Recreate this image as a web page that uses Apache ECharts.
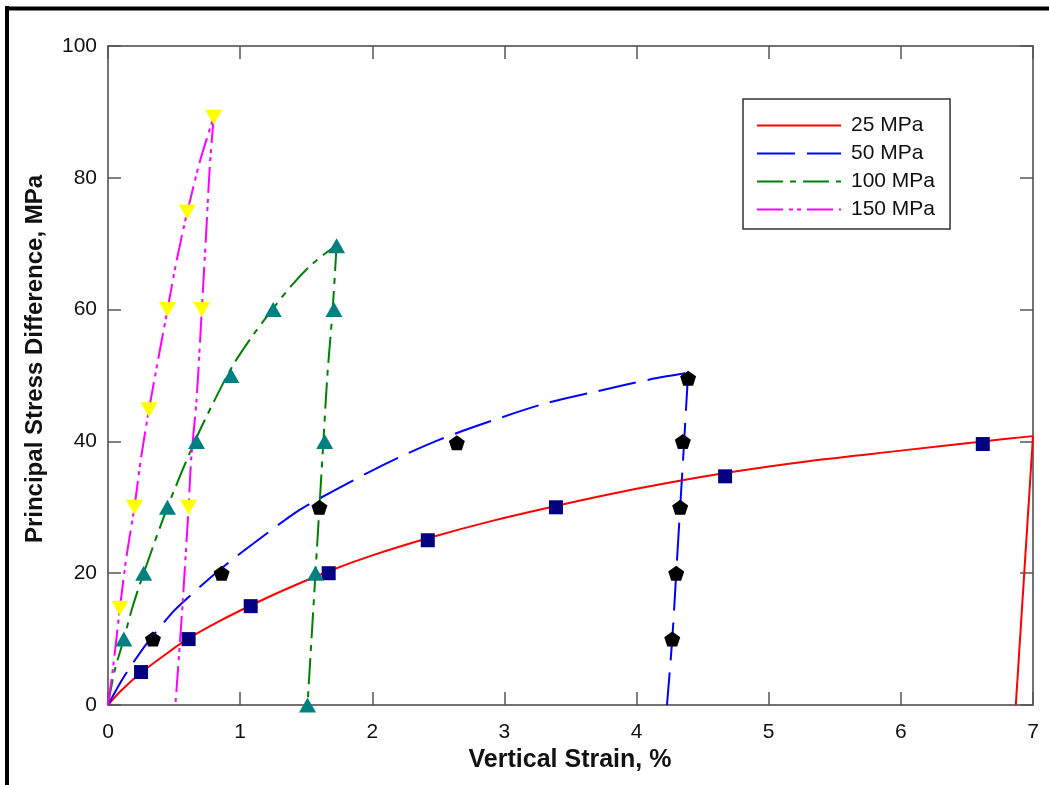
<!DOCTYPE html>
<html>
<head>
<meta charset="utf-8">
<script src="https://cdn.jsdelivr.net/npm/echarts@6/dist/echarts.min.js"></script>
<style>
  html, body { margin: 0; padding: 0; background: #fff; }
  #chart { width: 1049px; height: 785px; }
</style>
</head>
<body>
<div id="chart"></div>
<script>
// fitted curves, loading then unloading (strain %, stress MPa)
let load25x = [0, 0.1, 0.25, 0.45, 0.61, 0.85, 1.08, 1.35, 1.67, 2.0, 2.42, 2.9, 3.39, 4.0, 4.67, 5.3, 6.0, 6.62, 7.0];
let load25y = [0, 2.2, 4.9, 7.9, 10.1, 12.8, 15.1, 17.6, 20.3, 22.7, 25.3, 27.9, 30.2, 32.8, 35.2, 37.0, 38.6, 40.0, 40.8];
let unload25x = [7.0, 6.87];
let unload25y = [40.8, 0];

let load50x = [0, 0.1, 0.18, 0.3, 0.49, 0.6, 0.85, 1.1, 1.45, 1.7, 2.1, 2.5, 2.9, 3.3, 3.7, 4.1, 4.39];
let load50y = [0, 3.6, 6.1, 9.5, 14.1, 16.2, 20.6, 24.5, 29.6, 32.4, 36.6, 40.2, 43.1, 45.7, 47.6, 49.4, 50.4];
let unload50x = [4.39, 4.36, 4.33, 4.30, 4.27, 4.23];
let unload50y = [50.4, 40, 30, 20, 10, 0];

let load100x = [0, 0.05, 0.12, 0.18, 0.27, 0.45, 0.65, 0.80, 0.95, 1.10, 1.25, 1.40, 1.55, 1.73];
let load100y = [0, 5.2, 10, 14.5, 20, 30, 39.7, 46, 51.7, 56.2, 60.2, 63.9, 67.0, 69.8];
let unload100x = [1.73, 1.70, 1.66, 1.63, 1.60, 1.57, 1.54, 1.51];
let unload100y = [69.8, 60, 50, 40, 30, 20, 10, 0];

let load150x = [0, 0.04, 0.09, 0.14, 0.20, 0.25, 0.31, 0.38, 0.45, 0.52, 0.60, 0.70, 0.80];
let load150y = [0, 6, 14.7, 22.5, 30, 37.5, 44.8, 52.5, 60, 67.5, 74.8, 82.8, 89.2];
let unload150x = [0.80, 0.77, 0.74, 0.71, 0.67, 0.63, 0.61, 0.56, 0.51];
let unload150y = [89.2, 81.6, 70.5, 60, 46.3, 37.5, 30, 14, 0];

// measured points
let pts25x = [0.25, 0.61, 1.08, 1.67, 2.42, 3.39, 4.67, 6.62];
let pts25y = [5, 10, 15, 20, 25, 30, 34.7, 39.6];
let pts50x = [0.34, 0.86, 1.60, 2.64, 4.39, 4.35, 4.33, 4.30, 4.27];
let pts50y = [10, 20, 30, 39.8, 49.6, 40, 30, 20, 10];
let pts100x = [0.12, 0.27, 0.45, 0.67, 0.93, 1.25, 1.73, 1.71, 1.64, 1.57, 1.51];
let pts100y = [10, 20, 30, 40, 50, 60, 69.7, 60, 40, 20, 0];
let pts150x = [0.09, 0.20, 0.31, 0.45, 0.60, 0.80, 0.71, 0.61];
let pts150y = [14.7, 30, 44.8, 60, 74.8, 89.2, 60, 30];

let names = ['25 MPa', '50 MPa', '100 MPa', '150 MPa'];
let xTicks = [0, 1, 2, 3, 4, 5, 6, 7];
let yTicks = [0, 20, 40, 60, 80, 100];

let font = "'Liberation Sans', Arial, sans-serif";
let pentagon = 'path://M0,-10 L9.51,-3.09 L5.88,8.09 L-5.88,8.09 L-9.51,-3.09 Z';

function pairs(xs, ys) {
  return xs.map((x, i) => [x, ys[i]]);
}

function curve(name, xs, ys, color, dash) {
  return {
    name: name,
    type: 'line',
    data: pairs(xs, ys),
    symbol: 'none',
    showSymbol: false,
    smooth: 0.3,
    lineStyle: { color: color, width: 2, type: dash },
    itemStyle: { color: color },
    z: 2
  };
}

function marks(xs, ys, symbol, color, size, rotate) {
  return {
    type: 'scatter',
    data: pairs(xs, ys),
    symbol: symbol,
    symbolSize: size,
    symbolRotate: rotate || 0,
    itemStyle: { color: color, opacity: 1 },
    z: 5
  };
}

let dash50 = [38, 12];
let dash100 = [26, 7, 6, 7];
let dash150 = [26, 6, 4, 4, 4, 6];

let myChart = echarts.init(document.getElementById('chart'));

let axisLineStyle = { color: '#444', width: 1.5 };
let tickStyle = { color: '#555', width: 1.5 };

option = {
  backgroundColor: '#fff',
  animation: false,
  grid: { left: 108, top: 46, right: 16, bottom: 80 },
  xAxis: [
    {
      type: 'value', min: 0, max: 7, interval: 1, position: 'bottom',
      axisLine: { onZero: false, lineStyle: axisLineStyle },
      axisTick: { inside: true, length: 13, lineStyle: tickStyle },
      axisLabel: {
        margin: 17, color: '#111', fontSize: 21, fontFamily: font,
        formatter: v => xTicks.indexOf(v) >= 0 ? String(v) : ''
      },
      splitLine: { show: false }
    },
    {
      type: 'value', min: 0, max: 7, interval: 1, position: 'top',
      axisLine: { onZero: false, lineStyle: axisLineStyle },
      axisTick: { inside: true, length: 13, lineStyle: tickStyle },
      axisLabel: { show: false },
      splitLine: { show: false }
    }
  ],
  yAxis: [
    {
      type: 'value', min: 0, max: 100, interval: 20, position: 'left',
      axisLine: { show: true, onZero: false, lineStyle: axisLineStyle },
      axisTick: { show: true, inside: true, length: 13, lineStyle: tickStyle },
      axisLabel: {
        margin: 11, color: '#111', fontSize: 21, fontFamily: font,
        formatter: v => yTicks.indexOf(v) >= 0 ? String(v) : ''
      },
      splitLine: { show: false }
    },
    {
      type: 'value', min: 0, max: 100, interval: 20, position: 'right',
      axisLine: { show: true, onZero: false, lineStyle: axisLineStyle },
      axisTick: { show: true, inside: true, length: 13, lineStyle: tickStyle },
      axisLabel: { show: false },
      splitLine: { show: false }
    }
  ],
  legend: {
    orient: 'vertical',
    left: 743,
    top: 99,
    data: names,
    padding: [16, 15, 9, 13],
    itemWidth: 84,
    itemHeight: 14,
    itemGap: 7,
    borderColor: '#333',
    borderWidth: 1.5,
    backgroundColor: '#fff',
    selectedMode: false,
    itemStyle: { opacity: 0 },
    textStyle: { fontSize: 21, fontFamily: font, color: '#111', padding: [0, 0, 0, 5] }
  },
  graphic: [
    {
      type: 'line', shape: { x1: 7, y1: 6, x2: 7, y2: 785 },
      style: { stroke: '#000', lineWidth: 4 }
    },
    {
      type: 'line', shape: { x1: 5, y1: 8.5, x2: 1049, y2: 8.5 },
      style: { stroke: '#000', lineWidth: 4 }
    },
    {
      type: 'text', x: 570, y: 760,
      style: {
        text: 'Vertical Strain, %', font: 'bold 25px ' + font,
        fill: '#111', textAlign: 'center', textVerticalAlign: 'middle'
      }
    },
    {
      type: 'text', x: 35, y: 359, rotation: Math.PI / 2,
      style: {
        text: 'Principal Stress Difference, MPa', font: 'bold 24px ' + font,
        fill: '#111', textAlign: 'center', textVerticalAlign: 'middle'
      }
    }
  ],
  series: [
    curve(names[0], load25x, load25y, '#ff0000', 'solid'),
    curve(names[0], unload25x, unload25y, '#ff0000', 'solid'),
    curve(names[1], load50x, load50y, '#0000ff', dash50),
    curve(names[1], unload50x, unload50y, '#0000ff', dash50),
    curve(names[2], load100x, load100y, '#008000', dash100),
    curve(names[2], unload100x, unload100y, '#008000', dash100),
    curve(names[3], load150x, load150y, '#ff00ff', dash150),
    curve(names[3], unload150x, unload150y, '#ff00ff', dash150),
    marks(pts25x, pts25y, 'rect', '#000080', 14),
    marks(pts50x, pts50y, pentagon, '#000000', [16, 15]),
    marks(pts100x, pts100y, 'triangle', '#008080', [17, 15]),
    marks(pts150x, pts150y, 'triangle', '#ffff00', [17, 15], 180)
  ]
};
myChart.setOption(option);
</script>
</body>
</html>
